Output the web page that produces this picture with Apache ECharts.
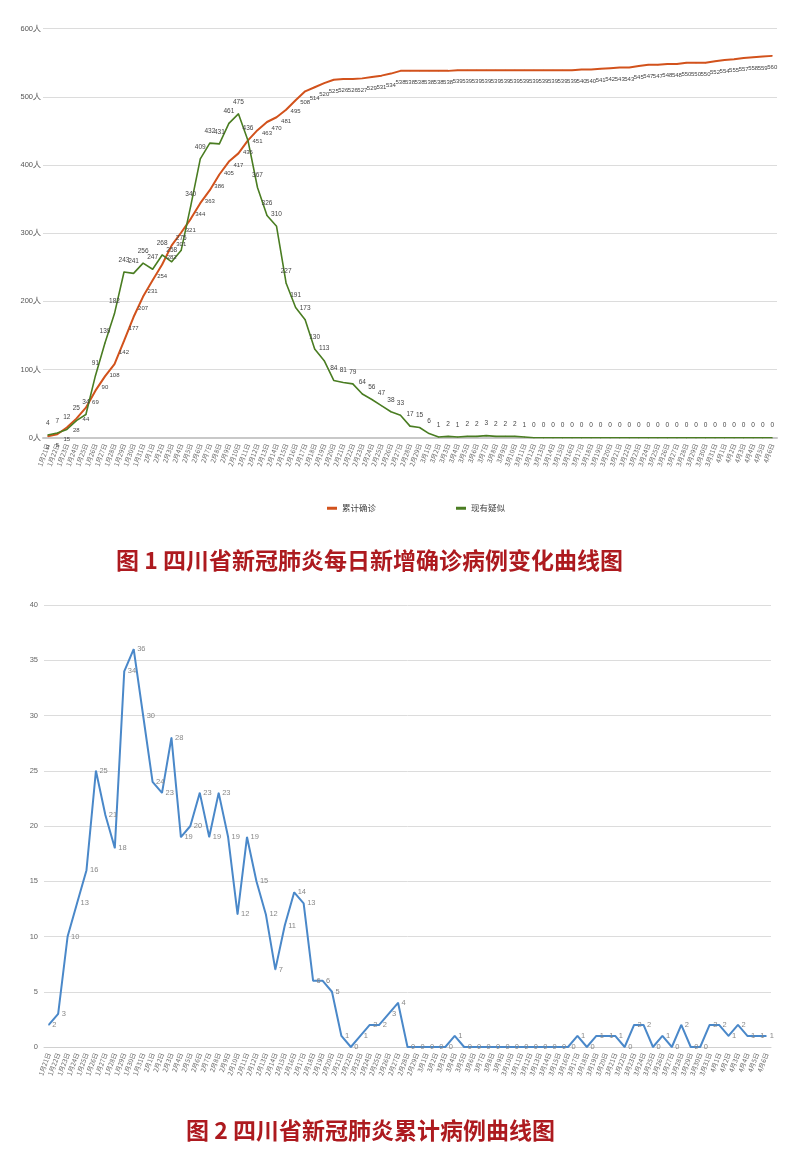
<!DOCTYPE html>
<html><head><meta charset="utf-8">
<script src="https://cdn.jsdelivr.net/npm/echarts@6/dist/echarts.min.js"></script>
<style>html,body{margin:0;padding:0;background:#fff}#c{width:800px;height:1160px}</style>
</head><body><div id="c"></div>
<script>
const dates = ['1月21日','1月22日','1月23日','1月24日','1月25日','1月26日','1月27日','1月28日','1月29日','1月30日','1月31日',
'2月1日','2月2日','2月3日','2月4日','2月5日','2月6日','2月7日','2月8日','2月9日','2月10日','2月11日','2月12日','2月13日','2月14日','2月15日','2月16日','2月17日','2月18日','2月19日','2月20日','2月21日','2月22日','2月23日','2月24日','2月25日','2月26日','2月27日','2月28日','2月29日',
'3月1日','3月2日','3月3日','3月4日','3月5日','3月6日','3月7日','3月8日','3月9日','3月10日','3月11日','3月12日','3月13日','3月14日','3月15日','3月16日','3月17日','3月18日','3月19日','3月20日','3月21日','3月22日','3月23日','3月24日','3月25日','3月26日','3月27日','3月28日','3月29日','3月30日','3月31日',
'4月1日','4月2日','4月3日','4月4日','4月5日','4月6日'];
const cumulative = [2,5,15,28,44,69,90,108,142,177,207,231,254,282,301,321,344,363,386,405,417,436,451,463,470,481,495,508,514,520,525,526,526,527,529,531,534,538,538,538,538,538,538,539,539,539,539,539,539,539,539,539,539,539,539,539,540,540,541,542,543,543,545,547,547,548,548,550,550,550,552,554,555,557,558,559,560];
const suspected = [4,7,12,25,34,91,139,182,243,241,256,247,268,258,275,340,409,432,431,461,475,436,367,326,310,227,191,173,130,113,84,81,79,64,56,47,38,33,17,15,6,1,2,1,2,2,3,2,2,2,1,0,0,0,0,0,0,0,0,0,0,0,0,0,0,0,0,0,0,0,0,0,0,0,0,0,0];
const daily = [2,3,10,13,16,25,21,18,34,36,30,24,23,28,19,20,23,19,23,19,12,19,15,12,7,11,14,13,6,6,5,1,0,1,2,2,3,4,0,0,0,0,0,1,0,0,0,0,0,0,0,0,0,0,0,0,1,0,1,1,1,0,2,2,0,1,0,2,0,0,2,2,1,2,1,1,1];
const seriesNames = ['累计确诊','现有疑似'];
const title1 = '图 1 四川省新冠肺炎每日新增确诊病例变化曲线图';
const title2 = '图 2 四川省新冠肺炎累计病例曲线图';

const chart = echarts.init(document.getElementById('c'));
const narrow = '"Liberation Sans Narrow","Liberation Sans",sans-serif';
const xLab = {interval:0, rotate:70, fontSize:6.5, color:'#6b6b6b', margin:6, fontFamily:'"Noto Sans CJK SC",sans-serif'};
chart.setOption({
  backgroundColor:'#fff',
  animation:false,
  grid:[
    {left:43, right:23, top:28.6, bottom:722.3},
    {left:44, right:29, top:605, bottom:113}
  ],
  legend:{left:322, top:499, itemWidth:10, itemHeight:3, itemGap:80, icon:'rect',
    textStyle:{fontSize:8.5, color:'#404040', fontFamily:'"Noto Sans CJK SC",sans-serif'}, data:seriesNames},
  xAxis:[
    {type:'category', gridIndex:0, data:dates, boundaryGap:true,
      axisLine:{lineStyle:{color:'#c8c8c8', width:2}}, axisTick:{show:false}, axisLabel:xLab},
    {type:'category', gridIndex:1, data:dates, boundaryGap:true,
      axisLine:{lineStyle:{color:'#d0d0d0', width:1}}, axisTick:{show:false}, axisLabel:xLab}
  ],
  yAxis:[
    {type:'value', gridIndex:0, min:0, max:600, interval:100,
      axisLabel:{formatter:'{value}人', fontSize:7.5, color:'#555', margin:2, fontFamily:narrow},
      splitLine:{lineStyle:{color:'#dcdcdc', width:1}}, axisLine:{show:false}, axisTick:{show:false}},
    {type:'value', gridIndex:1, min:0, max:40, interval:5,
      axisLabel:{fontSize:7.5, color:'#666', margin:6, fontFamily:narrow},
      splitLine:{lineStyle:{color:'#dcdcdc', width:1}}, axisLine:{show:false}, axisTick:{show:false}}
  ],
  series:[
    {name:seriesNames[0], type:'line', xAxisIndex:0, yAxisIndex:0, data:cumulative,
      symbol:'circle', symbolSize:1, showAllSymbol:true, smooth:false,
      lineStyle:{color:'#d2521c', width:2}, itemStyle:{color:'#d2521c'},
      label:{show:true, position:'bottom', distance:8, fontSize:6, color:'#444', fontFamily:narrow}},
    {name:seriesNames[1], type:'line', xAxisIndex:0, yAxisIndex:0, data:suspected,
      symbol:'circle', symbolSize:1, showAllSymbol:true,
      lineStyle:{color:'#4a7d22', width:1.6}, itemStyle:{color:'#4a7d22'},
      label:{show:true, position:'top', distance:8, fontSize:6.5, color:'#444', fontFamily:narrow}},
    {name:'daily', type:'line', xAxisIndex:1, yAxisIndex:1, data:daily,
      symbol:'circle', symbolSize:1, showAllSymbol:true,
      lineStyle:{color:'#4a88c9', width:2}, itemStyle:{color:'#4a88c9'},
      label:{show:true, position:'right', distance:3, fontSize:7.5, color:'#888', fontFamily:narrow}}
  ],
  graphic:[
    {type:'text', left:116, top:549, style:{text:title1, fill:'#ad1a1f', font:'bold 23px "Noto Sans CJK SC", sans-serif'}},
    {type:'text', left:186, top:1119, style:{text:title2, fill:'#ad1a1f', font:'bold 23px "Noto Sans CJK SC", sans-serif'}}
  ]
});
</script></body></html>
